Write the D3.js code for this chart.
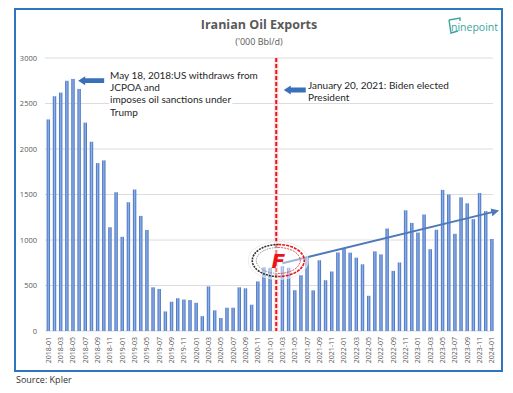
<!DOCTYPE html>
<html>
<head>
<meta charset="utf-8">
<script src="https://cdn.jsdelivr.net/npm/d3@7"></script>
<style>
  body { margin: 0; background: #fff; }
  text { font-family: "Open Sans", "Noto Sans", sans-serif; }
  .tick-y { font-size: 7.5px; fill: #595959; }
  .tick-x { font-size: 7px; fill: #595959; }
  .note { font-family: Lato, "Noto Sans", sans-serif; font-size: 10px; fill: #1f1f1f; }
</style>
</head>
<body>
<div id="chart"></div>
<script>
// Iranian oil exports, '000 bbl/d, monthly 2018-01 .. 2024-01
var exportsKbd = [
  2325, 2580, 2620, 2750, 2770, 2660, 2290, 2080, 1845, 1875, 1140, 1525,
  1035, 1415, 1555, 1265, 1110, 480, 462, 215, 322, 360, 346, 340,
  310, 163, 490, 227, 143, 256, 256, 480, 469, 289, 545, 700,
  695, 720, 712, 696, 448, 612, 805, 447, 777, 558, 654, 863,
  905, 861, 806, 733, 387, 875, 842, 1126, 661, 753, 1326, 1188,
  1082, 1280, 899, 1113, 1551, 1500, 1068, 1469, 1403, 1229, 1516, 1317,
  1011
];
var fmtMonth = d3.utcFormat("%Y-%m");
var months = d3.utcMonths(new Date(Date.UTC(2018, 0, 1)), new Date(Date.UTC(2024, 1, 1))).map(fmtMonth);
var yTicks = [0, 500, 1000, 1500, 2000, 2500, 3000];

// trend arrow: from 2021-03 to just past the last month
var trendFrom = { month: "2021-03", value: 745 };
var trendTo = { month: "2024-01", value: 1320 };

var note1 = ["May 18, 2018:US withdraws from", "JCPOA and", "imposes oil sanctions under", "Trump"];
var note2 = ["January 20, 2021: Biden elected", "President"];

var W = 513, H = 393;
var svg = d3.select("#chart").append("svg")
    .attr("width", W)
    .attr("height", H);

var defs = svg.append("defs");
var grad = defs.append("linearGradient").attr("id", "barGrad")
    .attr("x1", "0%").attr("x2", "100%").attr("y1", "0%").attr("y2", "0%");
grad.append("stop").attr("offset", "0%").attr("stop-color", "#3a66b8");
grad.append("stop").attr("offset", "50%").attr("stop-color", "#8fb2ea");
grad.append("stop").attr("offset", "100%").attr("stop-color", "#3a66b8");

defs.append("marker").attr("id", "trendHead")
    .attr("viewBox", "0 0 10 10").attr("refX", 8).attr("refY", 5)
    .attr("markerWidth", 4).attr("markerHeight", 4).attr("orient", "auto")
  .append("path").attr("d", "M0,0 L10,5 L0,10 Z").attr("fill", "#4f78b8");

// frame
svg.append("rect")
    .attr("x", 15).attr("y", 9).attr("width", 487).attr("height", 362)
    .attr("fill", "#fff").attr("stroke", "#2f75c0").attr("stroke-width", 2);

var x = d3.scaleBand().domain(months).range([45.2, 495]).paddingInner(0.45).paddingOuter(0.235);
var y = d3.scaleLinear().domain([0, 3000]).range([331, 58]);
var bw = x.bandwidth();

// grid
svg.append("g").selectAll("line").data(yTicks).join("line")
    .attr("x1", 45).attr("x2", 493)
    .attr("y1", function(d){ return y(d); }).attr("y2", function(d){ return y(d); })
    .attr("stroke", "#dcdcdc").attr("stroke-width", 1);

svg.append("g").selectAll("text").data(yTicks).join("text")
    .attr("class", "tick-y")
    .attr("x", 37).attr("y", function(d){ return y(d); })
    .attr("dy", "0.35em").attr("text-anchor", "end")
    .text(function(d){ return d; });

// bars
svg.append("g").selectAll("rect").data(exportsKbd).join("rect")
    .attr("x", function(d, i){ return x(months[i]); })
    .attr("y", function(d){ return y(d); })
    .attr("width", bw)
    .attr("height", function(d){ return y(0) - y(d); })
    .attr("fill", "url(#barGrad)");

// x labels, every other month
svg.append("g").selectAll("text").data(months.filter(function(d, i){ return i % 2 == 0; })).join("text")
    .attr("class", "tick-x")
    .attr("transform", function(d){ return "translate(" + (x(d) + bw / 2) + ",337) rotate(-90)"; })
    .attr("dy", "0.35em").attr("text-anchor", "end")
    .text(function(d){ return d; });

// Biden line (Jan 20, 2021)
var lineX = x("2021-02") + bw / 2;
svg.append("line").attr("x1", lineX).attr("x2", lineX).attr("y1", y(3000)).attr("y2", y(0))
    .attr("stroke", "#fbe3e3").attr("stroke-width", 4.5);
svg.append("line").attr("x1", lineX).attr("x2", lineX).attr("y1", y(3000)).attr("y2", y(0))
    .attr("stroke", "#e8141c").attr("stroke-width", 2).attr("stroke-dasharray", "4,2");

// trend arrow
svg.append("line")
    .attr("x1", x(trendFrom.month) + bw / 2).attr("y1", y(trendFrom.value))
    .attr("x2", x(trendTo.month) + bw + 4).attr("y2", y(trendTo.value))
    .attr("stroke", "#4f78b8").attr("stroke-width", 2)
    .attr("marker-end", "url(#trendHead)");

// block arrows pointing left
function blockArrow(tipX, tipY, len) {
  var hl = 7, hh = 4.5, sh = 2.4;
  return "M" + tipX + "," + tipY +
    " L" + (tipX + hl) + "," + (tipY - hh) + " L" + (tipX + hl) + "," + (tipY - sh) +
    " L" + (tipX + len) + "," + (tipY - sh) + " L" + (tipX + len) + "," + (tipY + sh) +
    " L" + (tipX + hl) + "," + (tipY + sh) + " L" + (tipX + hl) + "," + (tipY + hh) + " Z";
}
svg.append("path").attr("d", blockArrow(x("2018-05") + bw + 3.5, 80.7, 26)).attr("fill", "#3a70b8");
svg.append("path").attr("d", blockArrow(lineX + 7.5, 90, 22)).attr("fill", "#3a70b8");

function addNote(lines, x0, y0) {
  var g = svg.append("g");
  lines.forEach(function(t, i){
    var tx = g.append("text").attr("class", "note")
        .attr("x", x0).attr("y", y0 + i * 12.4).attr("dy", "0.35em").text(t);
    var b = tx.node().getBBox();
    g.insert("rect", "text").attr("x", b.x - 1).attr("y", b.y).attr("width", b.width + 2).attr("height", b.height)
        .attr("fill", "#fff");
  });
}
addNote(note1, 110, 75);
addNote(note2, 308, 85);

// red "F" stamp over the line
var stamp = svg.append("g").attr("transform", "translate(" + (lineX + 2) + ",260.5)");
stamp.append("ellipse").attr("rx", 30).attr("ry", 19).attr("fill", "rgba(255,255,255,0.45)")
    .attr("stroke", "#e6e6e6").attr("stroke-width", 0.8);
stamp.append("path").attr("d", "M0,-16 A26,16 0 0,0 0,16")
    .attr("fill", "none").attr("stroke", "#333").attr("stroke-width", 1.6).attr("stroke-dasharray", "2,1");
stamp.append("path").attr("d", "M0,-13 A22,13 0 0,0 0,13")
    .attr("fill", "none").attr("stroke", "#777").attr("stroke-width", 0.8).attr("stroke-dasharray", "1.5,1");
stamp.append("path").attr("d", "M0,-16 A26,16 0 0,1 0,16")
    .attr("fill", "none").attr("stroke", "#e8141c").attr("stroke-width", 1.6).attr("stroke-dasharray", "3,1");
stamp.append("path").attr("d", "M0,-13 A22,13 0 0,1 0,13")
    .attr("fill", "none").attr("stroke", "#e8141c").attr("stroke-width", 0.8).attr("stroke-dasharray", "2,1");
stamp.append("text").attr("x", 0).attr("y", 0).attr("dy", "0.36em").attr("text-anchor", "middle")
    .style("font-family", "'DejaVu Sans', sans-serif").style("font-size", "20px")
    .style("font-weight", "bold").style("font-style", "italic").style("fill", "#e8141c")
    .text("F");

// titles
svg.append("text").attr("x", 259).attr("y", 25).attr("dy", "0.35em").attr("text-anchor", "middle")
    .style("font-size", "12.5px").style("font-weight", "bold").style("fill", "#595959")
    .text("Iranian Oil Exports");
svg.append("text").attr("x", 259).attr("y", 41.5).attr("dy", "0.35em").attr("text-anchor", "middle")
    .style("font-size", "9px").style("fill", "#595959")
    .text("('000 Bbl/d)");

// ninepoint logo
var logo = svg.append("g").attr("transform", "translate(447,17)");
logo.append("path").attr("d", "M2,3 L13,1 L13,4 M2,3 L4,16 L11,14")
    .attr("fill", "none").attr("stroke", "#3aa5a0").attr("stroke-width", 1.4);
logo.append("text").attr("x", 4).attr("y", 10).attr("dy", "0.35em")
    .style("font-size", "10.5px").style("fill", "#3aa5a0")
    .text("ninepoint");

svg.append("text").attr("x", 16).attr("y", 380).attr("dy", "0.35em")
    .style("font-size", "9px").style("fill", "#333")
    .text("Source: Kpler");
</script>
</body>
</html>
